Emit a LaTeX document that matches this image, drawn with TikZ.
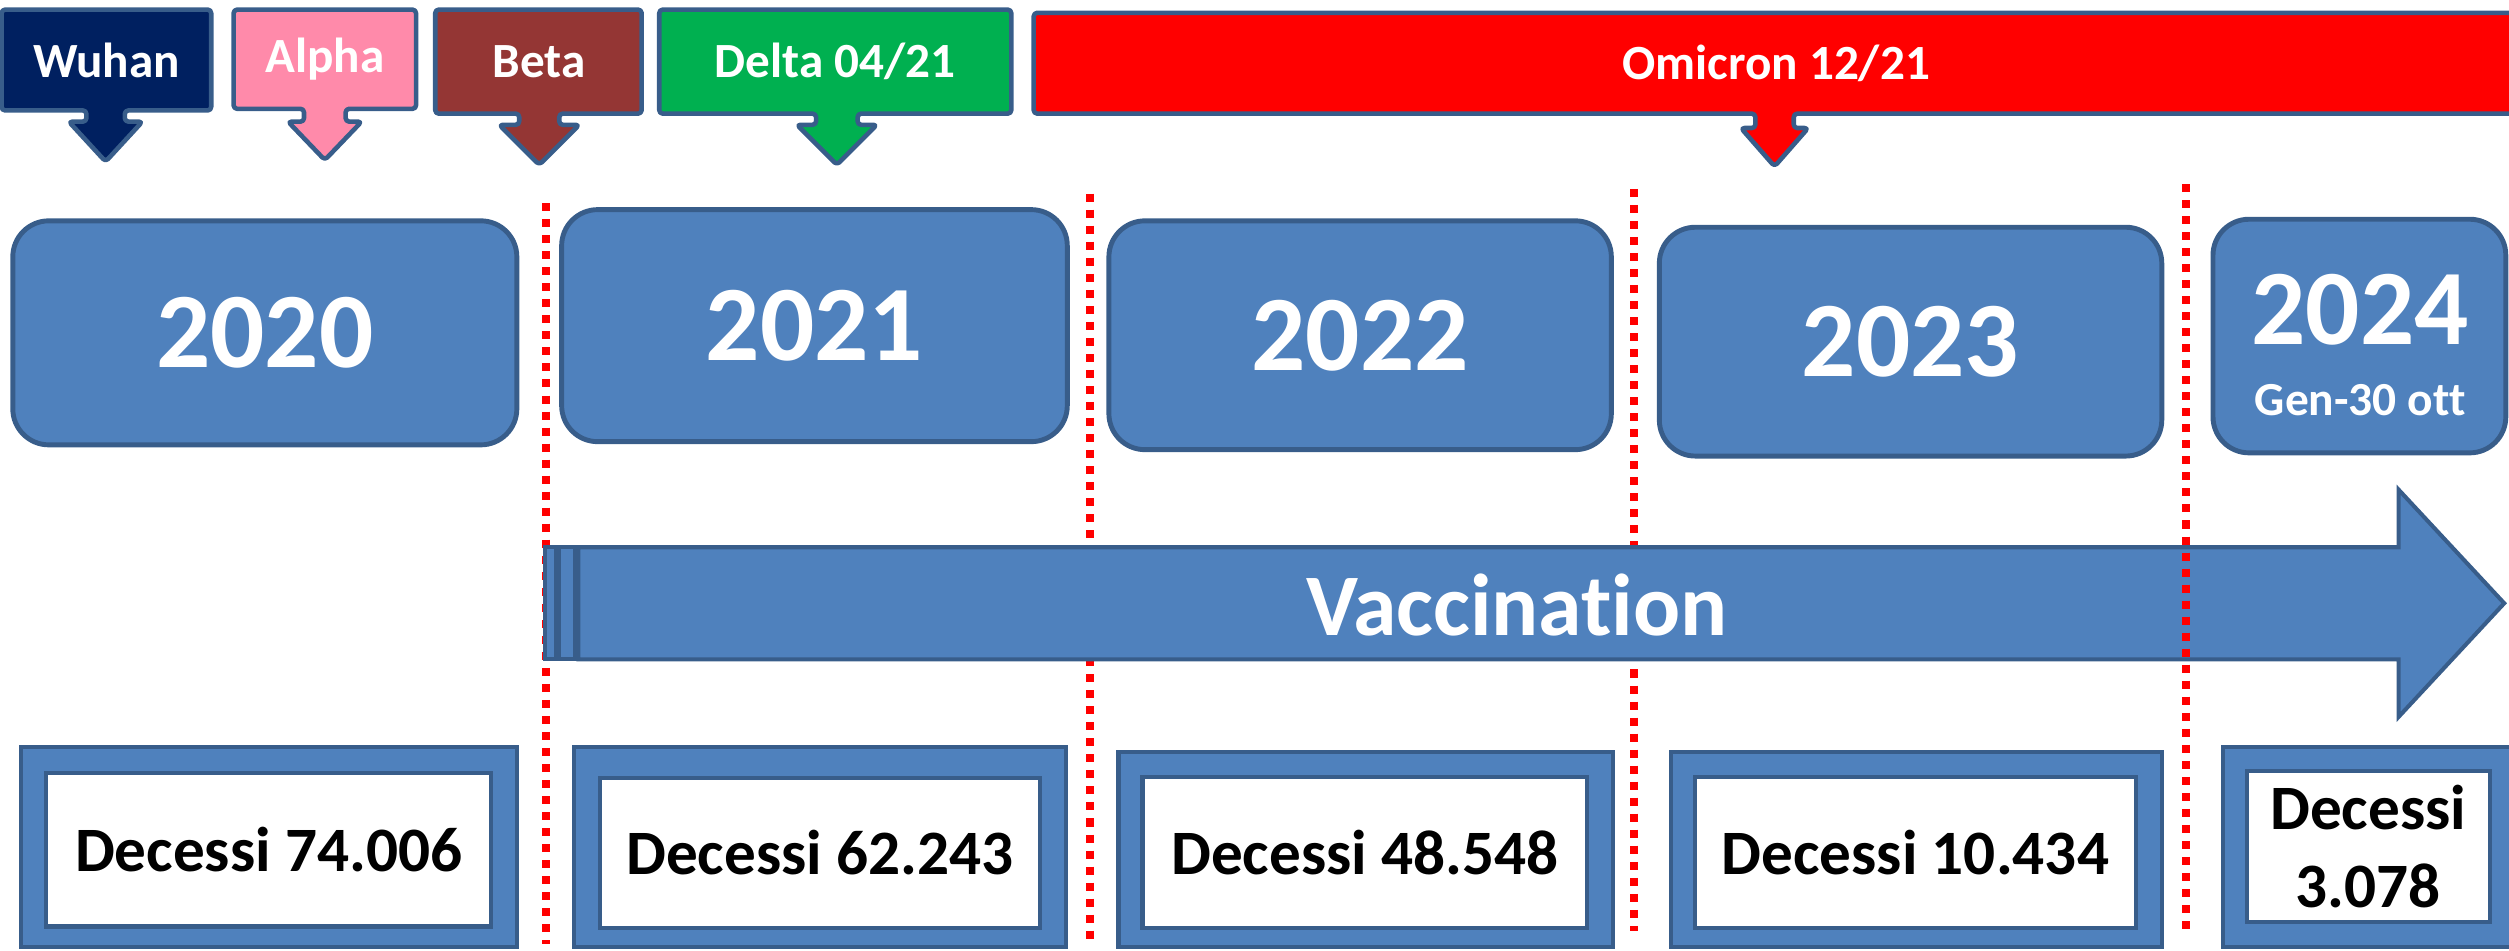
\documentclass[tikz,border=0pt]{standalone}
\usepackage{fontspec}
\setmainfont{Carlito}[Ligatures=NoCommon]

\definecolor{boxblue}{HTML}{4F81BD}
\definecolor{edgeblue}{HTML}{385D8A}
\definecolor{wuhancol}{HTML}{002060}
\definecolor{alphacol}{HTML}{FF8AAA}
\definecolor{betacol}{HTML}{943634}
\definecolor{deltacol}{HTML}{00B050}
\definecolor{omicroncol}{HTML}{FF0000}

\tikzset{
	variant/.style={draw=edgeblue, line width=1.3pt, rounded corners=1pt, line join=round},
	varlabel/.style={text=white, font=\bfseries\fontsize{14}{14}\selectfont},
	yearbox/.style={draw=edgeblue, fill=boxblue, line width=1.4pt, rounded corners=0.36cm},
	yearlabel/.style={text=white, font=\bfseries\fontsize{30.5}{30.5}\selectfont},
	reddots/.style={draw=red, line width=2.28pt, dash pattern=on 2.28pt off 2.28pt},
	deathframe/.style={draw=edgeblue, fill=boxblue, line width=1.15pt},
	deathinner/.style={draw=edgeblue, fill=white, line width=1.15pt},
	deathlabel/.style={text=black, align=center, font=\bfseries\fontsize{18}{22}\selectfont}
}

\begin{document}
\begin{tikzpicture}[x=0.016cm, y=-0.016cm]
			\useasboundingbox (0,0) rectangle (1568,594);
			\clip (0,0) rectangle (1568,594);
			
			% variants
			\draw[variant, fill=wuhancol] (1,6) -- (132,6) -- (132,69) -- (78,69) -- (78,76) -- (89,76) -- (66,101) -- (43,76) -- (54,76) -- (54,69) -- (1,69) -- cycle;
			\node[varlabel] (wuhan) at (66.5,37.5) {Wuhan};
			
			\draw[variant, fill=alphacol] (146,6) -- (260,6) -- (260,68) -- (216,68) -- (216,76) -- (226,76) -- (203,100) -- (180,76) -- (190,76) -- (190,68) -- (146,68) -- cycle;
			\node[varlabel] (alpha) at (203,37) {Alpha};
			
			\draw[variant, fill=betacol] (272,6) -- (401,6) -- (401,71) -- (349.5,71) -- (349.5,78) -- (362,78) -- (337,103) -- (312,78) -- (324.5,78) -- (324.5,71) -- (272,71) -- cycle;
			\node[varlabel] (beta) at (337,38.5) {Beta};
			
			\draw[variant, fill=deltacol] (412,6) -- (632,6) -- (632,71) -- (536,71) -- (536,78) -- (548,78) -- (523,103) -- (498,78) -- (510,78) -- (510,71) -- (412,71) -- cycle;
			\node[varlabel] (delta) at (522,38.5) {Delta 04/21};
			
			\draw[variant, fill=omicroncol] (646,8) -- (1574,8) -- (1574,71) -- (1121,71) -- (1121,80) -- (1130,80) -- (1109,104) -- (1088,80) -- (1097,80) -- (1097,71) -- (646,71) -- cycle;
			\node[varlabel] (omicron) at (1110,39.5) {Omicron 12/21};
			
			% years
			\draw[yearbox] (8,138) rectangle (323,278);
			\node[yearlabel] (y2020) at (165.5,208) {2020};
			
			\draw[yearbox] (351,131) rectangle (667,276);
			\node[yearlabel] (y2021) at (509,203.5) {2021};
			
			\draw[yearbox] (693,138) rectangle (1007,281);
			\node[yearlabel] (y2022) at (850,209.5) {2022};
			
			\draw[yearbox] (1037,142) rectangle (1351,285);
			\node[yearlabel] (y2023) at (1194,213.5) {2023};
			
			\draw[yearbox] (1383,137) rectangle (1566,283);
			\node[yearlabel] (y2024) at (1475,193.5) {2024};
			\node[varlabel, font=\bfseries\fontsize{13.5}{13.5}\selectfont] (range2024) at (1475,250) {Gen-30 ott};
			
			% dividers
			\draw[reddots] (341.5,127) -- (341.5,590);
			\draw[reddots] (681,121) -- (681,588);
			\draw[reddots] (1021,118) -- (1021,582);
			
			% vaccination arrow
			\draw[deathframe, draw=white, line width=0.4pt] (340,341.5) rectangle (361,412.5);
			\draw[deathframe] (340.5,342) rectangle (347.5,412);
			\draw[deathframe] (349.5,342) rectangle (359.5,412);
			\draw[deathframe, line join=miter] (361.5,342) -- (1499,342) -- (1499,306) -- (1565,377) -- (1499,448) -- (1499,412) -- (361.5,412) -- cycle;
			\node[text=white, font=\bfseries\fontsize{25}{25}\selectfont] (vacc) at (948,378) {Vaccinat\kern0pt ion};
			
			\draw[reddots] (1366,115) -- (1366,582);
			
			% deaths
			\draw[deathframe] (13,467) rectangle (323,592);
			\draw[deathinner] (29,483) rectangle (307,579);
			\node[deathlabel] (d2020) at (168,531) {Decessi 74.006};
			
			\draw[deathframe] (359,467) rectangle (666,592);
			\draw[deathinner] (375,486) rectangle (650,580);
			\node[deathlabel] (d2021) at (512.5,533) {Decessi 62.243};
			
			\draw[deathframe] (699,470) rectangle (1008,592);
			\draw[deathinner] (714,485.5) rectangle (992,580);
			\node[deathlabel] (d2022) at (853,533) {Decessi 48.548};
			
			\draw[deathframe] (1044,470) rectangle (1351,592);
			\draw[deathinner] (1059,485.5) rectangle (1335,580);
			\node[deathlabel] (d2023) at (1197,533) {Decessi 10.434};
			
			\draw[deathframe] (1389,467) rectangle (1575,592);
			\draw[deathinner] (1404,482) rectangle (1556,576);
			\node[deathlabel] (d2024) at (1480,529) {Decessi\\3.078};
\end{tikzpicture}
\end{document}
